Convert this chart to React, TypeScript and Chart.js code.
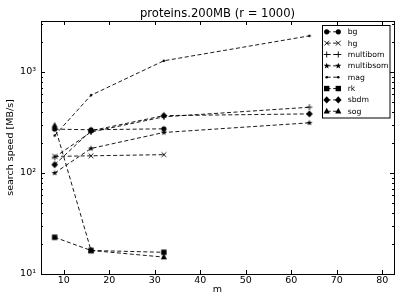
import { useEffect, useRef } from 'react';
import { Chart, registerables } from 'chart.js';

Chart.register(...registerables);

const titleText = 'proteins.200MB (r = 1000)';
const xLabel = 'm';
const yLabel = 'search speed [MB/s]';

const mValues = [8, 16, 32, 64];
const bg = [272, 268, 274];
const hg = [146, 148, 152];
const multibom = [143, 255, 360, 448];
const multibsom = [100, 175, 252, 314];
const mag = [235, 589, 1292, 2281];
const rk = [23.1, 17.1, 16.4];
const sbdm = [121, 262, 370, 385];
const sog = [295, 17.1, 14.7];

const seriesNames = ['bg', 'hg', 'multibom', 'multibsom', 'mag', 'rk', 'sbdm', 'sog'];
const seriesValues = [bg, hg, multibom, multibsom, mag, rk, sbdm, sog];
const seriesMarkers = ['circle', 'x', 'plus', 'star', 'dot', 'square', 'diamond', 'triangle'];

const xTicks = [10, 20, 30, 40, 50, 60, 70, 80];
const yTicks = [10, 100, 1000];
const yTickLabels = ['10¹', '10²', '10³'];

const FONT = '"DejaVu Sans", sans-serif';

function drawMarker(ctx: CanvasRenderingContext2D, style: string, x: number, y: number) {
  ctx.save();
  ctx.fillStyle = '#000';
  ctx.strokeStyle = '#000';
  ctx.lineWidth = 0.9;
  ctx.setLineDash([]);
  ctx.beginPath();
  switch (style) {
    case 'circle':
      ctx.arc(x, y, 2.6, 0, Math.PI * 2);
      ctx.fill();
      break;
    case 'x': {
      const r = 2.4;
      ctx.moveTo(x - r, y - r);
      ctx.lineTo(x + r, y + r);
      ctx.moveTo(x - r, y + r);
      ctx.lineTo(x + r, y - r);
      ctx.stroke();
      break;
    }
    case 'plus': {
      const r = 3;
      ctx.moveTo(x - r, y);
      ctx.lineTo(x + r, y);
      ctx.moveTo(x, y - r);
      ctx.lineTo(x, y + r);
      ctx.stroke();
      break;
    }
    case 'star': {
      const ro = 3.2;
      const ri = 1.3;
      for (let i = 0; i < 10; i++) {
        const a = -Math.PI / 2 + (i * Math.PI) / 5;
        const r = i % 2 === 0 ? ro : ri;
        const px = x + r * Math.cos(a);
        const py = y + r * Math.sin(a);
        if (i === 0) ctx.moveTo(px, py);
        else ctx.lineTo(px, py);
      }
      ctx.closePath();
      ctx.fill();
      break;
    }
    case 'dot':
      ctx.arc(x, y, 1.3, 0, Math.PI * 2);
      ctx.fill();
      break;
    case 'square':
      ctx.rect(x - 2.7, y - 2.7, 5.4, 5.4);
      ctx.fill();
      break;
    case 'diamond':
      ctx.moveTo(x, y - 3.6);
      ctx.lineTo(x + 3.3, y);
      ctx.lineTo(x, y + 3.6);
      ctx.lineTo(x - 3.3, y);
      ctx.closePath();
      ctx.fill();
      break;
    case 'triangle':
      ctx.moveTo(x, y - 3.4);
      ctx.lineTo(x + 3.1, y + 2.3);
      ctx.lineTo(x - 3.1, y + 2.3);
      ctx.closePath();
      ctx.fill();
      break;
  }
  ctx.restore();
}

function markerImage(style: string): HTMLCanvasElement {
  const c = document.createElement('canvas');
  c.width = 10;
  c.height = 10;
  const ctx = c.getContext('2d')!;
  drawMarker(ctx, style, 5, 5);
  return c;
}

const framePlugin = {
  id: 'mplFrame',
  afterDatasetsDraw(chart: any) {
    const { ctx, chartArea } = chart;
    const { left, right, top, bottom } = chartArea;
    const xs = chart.scales.x;
    const ys = chart.scales.y;
    ctx.save();
    ctx.strokeStyle = '#000';
    ctx.lineWidth = 1;
    ctx.setLineDash([]);
    ctx.beginPath();
    for (const v of xTicks) {
      const px = Math.round(xs.getPixelForValue(v)) + 0.5;
      ctx.moveTo(px, bottom);
      ctx.lineTo(px, bottom - 4);
      ctx.moveTo(px, top);
      ctx.lineTo(px, top + 4);
    }
    for (let d = 10; d <= 1000; d *= 10) {
      for (let k = 1; k <= 9; k++) {
        const v = d * k;
        if (v < ys.min || v > ys.max) continue;
        const len = k === 1 ? 4 : 2;
        const py = Math.round(ys.getPixelForValue(v)) + 0.5;
        ctx.moveTo(left, py);
        ctx.lineTo(left + len, py);
        ctx.moveTo(right, py);
        ctx.lineTo(right - len, py);
      }
    }
    ctx.stroke();
    ctx.strokeRect(Math.round(left) + 0.5, Math.round(top) + 0.5, Math.round(right - left), Math.round(bottom - top));
    ctx.restore();
  },
  afterDraw(chart: any) {
    const { ctx } = chart;
    const bx = 322.5;
    const by = 25.5;
    const bw = 67.5;
    const bh = 92.5;
    ctx.save();
    ctx.fillStyle = '#fff';
    ctx.fillRect(bx, by, bw, bh);
    ctx.strokeStyle = '#000';
    ctx.lineWidth = 1;
    ctx.strokeRect(bx, by, bw, bh);
    ctx.font = `7.7px ${FONT}`;
    ctx.textBaseline = 'middle';
    ctx.textAlign = 'left';
    seriesNames.forEach((name, i) => {
      const y = 31.8 + i * 11.35;
      ctx.save();
      ctx.strokeStyle = '#000';
      ctx.lineWidth = 0.9;
      ctx.setLineDash([4, 2.5]);
      ctx.beginPath();
      ctx.moveTo(326.7, y);
      ctx.lineTo(338.3, y);
      ctx.stroke();
      ctx.restore();
      drawMarker(ctx, seriesMarkers[i], 326.7, y);
      drawMarker(ctx, seriesMarkers[i], 338.3, y);
      ctx.fillStyle = '#000';
      ctx.fillText(name, 347.7, y + 0.5);
    });
    ctx.restore();
  },
};

export default function App() {
  const ref = useRef<HTMLCanvasElement | null>(null);
  useEffect(() => {
    if (!ref.current) return;
    const datasets = seriesNames.map((name, i) => ({
      label: name,
      data: seriesValues[i].map((v, j) => ({ x: mValues[j], y: v })),
      borderColor: '#000',
      backgroundColor: '#000',
      borderWidth: 0.9,
      borderDash: [4, 2.5],
      pointStyle: markerImage(seriesMarkers[i]),
      pointRadius: 3,
      tension: 0,
      fill: false,
    }));
    const font = { family: FONT, size: 9.5 };
    const chart = new Chart(ref.current, {
      type: 'line',
      data: { datasets },
      plugins: [framePlugin],
      options: {
        animation: false,
        responsive: false,
        events: [],
        layout: { padding: { top: 0, right: 12, left: 0, bottom: 0 } },
        plugins: {
          legend: { display: false },
          tooltip: { enabled: false },
          title: {
            display: true,
            text: titleText,
            fullSize: false,
            color: '#000',
            font: { family: FONT, size: 11.6, weight: 'normal' },
            padding: { top: 7, bottom: 0.08 },
          },
        },
        scales: {
          x: {
            type: 'linear',
            min: 5,
            max: 82.6,
            grid: { display: false, drawTicks: false },
            border: { display: false },
            ticks: { color: '#000', font, padding: 1.3, autoSkip: false, maxRotation: 0 },
            afterBuildTicks: (s: any) => {
              s.ticks = xTicks.map((v) => ({ value: v }));
            },
            afterFit: (s: any) => {
              s.height = 31;
            },
            title: { display: true, text: xLabel, color: '#000', font, padding: { top: 0, bottom: 9.8 } },
          },
          y: {
            type: 'logarithmic',
            min: 10,
            max: 3200,
            grid: { display: false, drawTicks: false },
            border: { display: false },
            ticks: {
              color: '#000',
              font,
              padding: 5,
              autoSkip: false,
              callback: (v: any) => {
                const i = yTicks.indexOf(Number(v));
                return i >= 0 ? yTickLabels[i] : '';
              },
            },
            afterBuildTicks: (s: any) => {
              s.ticks = yTicks.map((v) => ({ value: v }));
            },
            afterFit: (s: any) => {
              s.width = 41;
            },
            title: { display: true, text: yLabel, color: '#000', font, padding: { top: 4.8, bottom: 0 } },
          },
        },
      } as any,
    });
    return () => chart.destroy();
  }, []);
  return (
    <div style={{ position: 'fixed', left: 0, top: 0, width: 406, height: 305, background: '#fff' }}>
      <canvas ref={ref} width={406} height={305} style={{ display: 'block' }} />
    </div>
  );
}
